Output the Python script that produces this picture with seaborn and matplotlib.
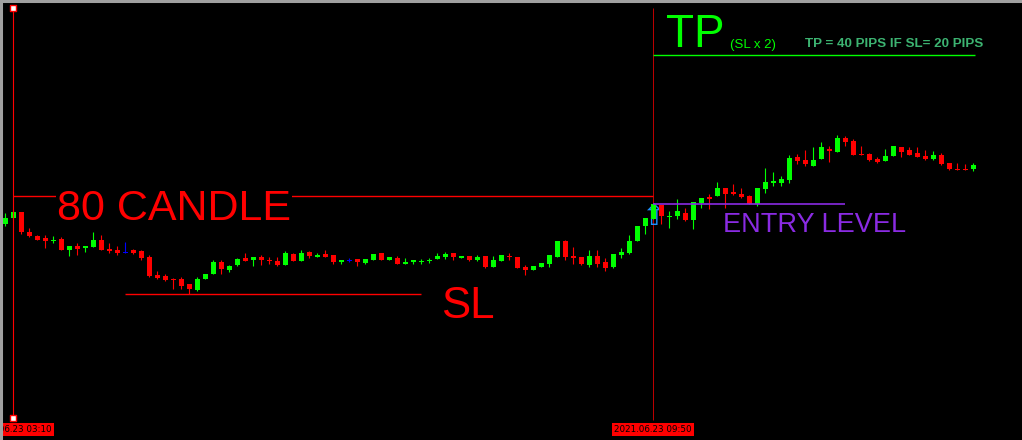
import numpy as np
import pandas as pd
import matplotlib.pyplot as plt
from matplotlib.lines import Line2D
import seaborn as sns

# ── Candles (chart levels, smaller value = higher price) ──
opens = [224, 218, 212, 232, 236, 238, 241, 239, 250, 246,
         248, 247, 240, 249, 250, 252, 250, 251, 257, 275,
         276, 279, 279, 284, 290, 279, 274, 262, 270, 265,
         258, 260, 257, 260, 261, 265, 254, 261, 252, 257,
         254, 255, 262, 260, 259, 263, 260, 253, 260, 258,
         264, 262, 261.5, 260.5, 259, 257, 253, 258, 256, 260,
         256, 267, 261, 256, 257, 267, 270, 267, 264, 257,
         241, 256, 257, 265, 256, 262, 267, 255, 253, 241,
         226, 219, 205, 216.5, 216, 213, 220, 203, 197, 196,
         188, 192, 194, 196, 204, 189, 183, 183, 180, 157,
         160, 166, 159, 149, 152, 138, 141, 154, 154, 159,
         161, 156, 147, 150, 153, 156, 159, 155, 163, 169,
         169, 169]
closes = [218, 212, 232, 236, 240, 241, 240, 250, 246, 249,
          246, 240, 250, 251, 253, 252, 253, 258, 276, 278,
          280, 280, 286, 289, 279, 274, 262, 269, 266, 259,
          261, 257, 260, 261, 265, 253, 261, 253, 256, 255,
          257, 262, 260, 260, 262, 259, 254, 260, 257, 264,
          262, 260, 261, 260, 256, 254, 257, 256, 260, 257,
          267, 260, 255, 257, 268, 270, 266, 263, 255, 241,
          257, 258, 264, 256, 264, 268, 254, 252, 241, 226,
          218, 204, 216, 216, 211, 220, 202, 198, 199, 188,
          194, 194, 197, 204, 188, 182, 181, 179, 158, 161,
          164, 160, 147, 151, 138, 142, 155, 155, 160, 162,
          156, 146, 152, 155, 157, 159, 155, 164, 169, 170,
          170, 165]
highs = [213, 210, 212, 228, 235, 235, 236, 237, 246, 243,
         246, 232, 235, 243, 246, 242, 249, 250, 255, 271,
         274, 278, 277, 284, 277, 274, 260, 260, 265, 258,
         253, 257, 255, 257, 257, 251, 253, 250, 251, 253,
         250, 255, 260, 258, 259, 259, 254, 253, 257, 256,
         258, 260, 259, 258, 253, 252, 253, 256, 256, 255,
         256, 256, 255, 253, 257, 265, 266, 263, 255, 241,
         240, 247, 257, 250, 250, 258, 254, 248, 235, 226,
         218, 204, 205, 211, 199, 208, 202, 198, 194, 182,
         188, 184, 188, 195, 188, 168, 172, 176, 155, 154,
         150, 147, 142, 146, 135, 136, 139, 146, 153, 157,
         149, 146, 147, 147, 147, 150, 151, 153, 163, 163,
         164, 163]
lows = [226, 219, 234, 237, 240, 248, 243, 250, 256, 255,
        252, 247, 250, 253, 255, 253, 254, 260, 277, 279,
        281, 289, 289, 294, 291, 279, 274, 274, 272, 266,
        261, 266, 265, 264, 266, 265, 261, 261, 258, 257,
        257, 264, 264, 262, 266, 264, 260, 260, 260, 264,
        264, 264, 264, 263, 259, 259, 260, 258, 261, 261,
        268, 267, 261, 260, 268, 275, 270, 267, 267, 257,
        260, 264, 265, 267, 267, 271, 268, 258, 254, 241,
        234, 219, 224, 228, 219, 221, 229, 208, 209, 196,
        208, 195, 198, 204, 206, 193, 186, 186, 183, 164,
        166, 166, 159, 162, 152, 146, 155, 155, 161, 163,
        161, 156, 157, 155, 157, 160, 160, 165, 170, 170,
        170, 171]

# ── Levels and markers ─────────────────────────────────────────
candle_high_level = 196   # 80 candle high
sl_level = 294
entry_level = 204
tp_level = 55
start_bar, entry_bar = 1, 81
start_label = "2021.06.23 03:10"
entry_label = "2021.06.23 09:50"

df = pd.DataFrame({"open": opens, "close": closes, "high": highs, "low": lows})
df["bar"] = np.arange(len(df))
df["color"] = np.where(df["close"] < df["open"], "#00ff00",
                       np.where(df["close"] > df["open"], "#ff0000", "#0000ff"))

# ── Style ──────────────────────────────────────────────────────
sns.set_theme(style="dark", rc={"axes.facecolor": "black", "figure.facecolor": "black"})
plt.rcParams['font.family'] = ['Liberation Sans', 'DejaVu Sans']

fig = plt.figure(figsize=(10.22, 4.40), dpi=100)
ax = fig.add_axes([0, 0, 1, 1])
ax.set_xlim(-0.625, 127.125)
ax.set_ylim(440, 0)
ax.axis("off")

# entry arrow (behind candles)
ax.text(entry_bar, 217, "⇧", color="#1e90ff", fontsize=21, ha="center", va="center",
        family="DejaVu Sans", zorder=2)

# ── Candles ────────────────────────────────────────────────────
ax.vlines(df["bar"], df["high"], df["low"], colors=df["color"], lw=0.8, zorder=3)
body_low = np.minimum(df["open"], df["close"])
body_h = np.maximum((df["close"] - df["open"]).abs(), 1)
ax.bar(df["bar"], body_h, bottom=body_low, width=0.625, color=df["color"],
       linewidth=0, zorder=4)

# ── Vertical markers ───────────────────────────────────────────
ax.vlines(start_bar, 8, 418, color="#ff0000", lw=0.8, zorder=5)
ax.vlines(entry_bar, 8, 420, color="#c00000", lw=0.7, zorder=1)
ax.scatter([start_bar, start_bar], [8, 418], marker="s", s=22, c="white",
           edgecolors="#ff0000", linewidths=1, zorder=6)

# ── Levels ─────────────────────────────────────────────────────
ax.hlines(candle_high_level, start_bar, entry_bar, color="#ff0000", lw=1, zorder=2)
ax.hlines(sl_level, 15, 52, color="#ff0000", lw=1, zorder=2)
ax.hlines(entry_level, entry_bar, 105, color="#8a2be2", lw=1.2, zorder=5)
ax.hlines(tp_level, entry_bar, 121.25, color="#00ff00", lw=1, zorder=2)

# ── Labels ─────────────────────────────────────────────────────
ax.text(6.5, 209, "80 CANDLE", color="#ff0000", fontsize=31, ha="left", va="center",
        bbox=dict(facecolor="black", edgecolor="none", pad=1), zorder=3)
ax.text(54.5, 306, "SL", color="#ff0000", fontsize=31.5, ha="left", va="center")
ax.text(89.7, 225, "ENTRY LEVEL", color="#8a2be2", fontsize=19.5, ha="left", va="center")
ax.text(82.6, 35, "TP", color="#00ff00", fontsize=33, ha="left", va="center")
ax.text(90.6, 45, "(SL x 2)", color="#00ff00", fontsize=9.5, ha="left", va="center")
ax.text(100, 44, "TP = 40 PIPS IF SL= 20 PIPS", color="#3cb371", fontsize=9.6,
        fontweight="bold", ha="left", va="center")

for bar, label in [(start_bar, start_label), (entry_bar, entry_label)]:
    ax.text(bar, 429.5, label, color="black", fontsize=6.3, family="DejaVu Sans",
            ha="center", va="center",
            bbox=dict(facecolor="#ff0000", edgecolor="none", pad=1.3), zorder=7)

# window frame (top and left edges)
fig.add_artist(Line2D([0, 1], [0.998, 0.998], color="#a0a0a0", lw=2.2, transform=fig.transFigure))
fig.add_artist(Line2D([0.001, 0.001], [0, 1], color="#a0a0a0", lw=2.2, transform=fig.transFigure))

plt.savefig("out.png", dpi=100, facecolor="black")
